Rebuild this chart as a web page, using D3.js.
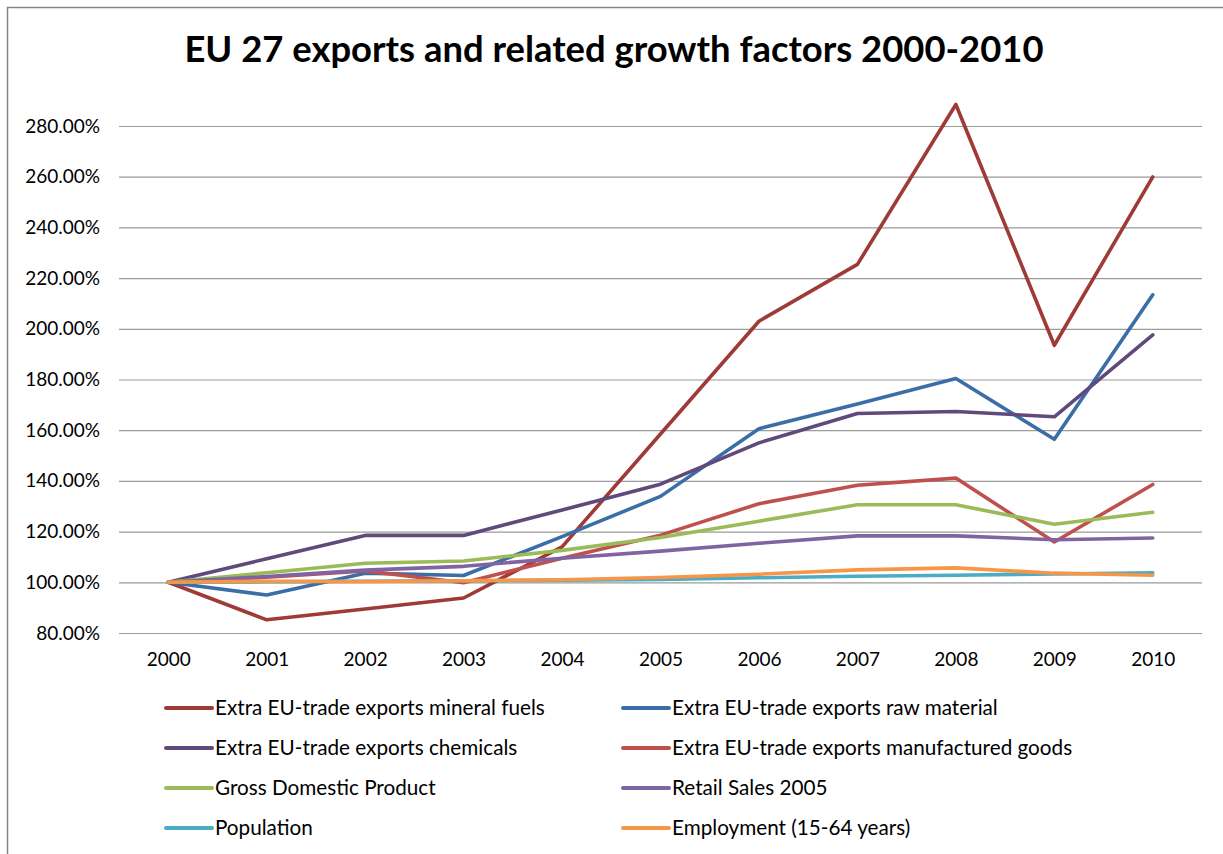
<!DOCTYPE html>
<html>
<head>
<meta charset="utf-8">
<script src="https://cdn.jsdelivr.net/npm/d3@7"></script>
<style>
  html, body { margin: 0; padding: 0; background: #ffffff; }
  svg { display: block; }
  text { font-family: "Lato", "Open Sans", "DejaVu Sans", sans-serif; fill: #000; }
</style>
</head>
<body>
<svg id="chart" width="1223" height="854"></svg>
<script>
// Index values (2000 = 100%)
const years = ["2000","2001","2002","2003","2004","2005","2006","2007","2008","2009","2010"];

const mineralFuels   = [100, 85.2, 89.5, 93.8, 114.0, 158.5, 203.0, 225.4, 288.5, 193.5, 259.9];
const rawMaterial    = [100, 95.0, 103.6, 102.7, 118.0, 133.9, 160.6, 170.3, 180.4, 156.4, 213.4];
const chemicals      = [100, 109.3, 118.5, 118.5, 128.5, 138.7, 155.0, 166.6, 167.4, 165.3, 197.6];
const manufactured   = [100, 102.0, 104.5, 99.8, 109.5, 118.6, 131.0, 138.3, 141.1, 115.9, 138.6];
const gdp            = [100, 103.8, 107.5, 108.4, 112.6, 117.7, 124.1, 130.6, 130.6, 122.9, 127.6];
const retailSales    = [100, 102.3, 104.8, 106.3, 109.5, 112.3, 115.4, 118.3, 118.3, 116.8, 117.5];
const population     = [100, 100.2, 100.4, 100.6, 100.8, 101.1, 101.8, 102.4, 102.8, 103.3, 103.7];
const employment     = [100, 100.4, 100.3, 100.6, 101.0, 101.9, 103.2, 104.9, 105.7, 103.6, 102.8];

const seriesNames = [
  "Extra EU-trade exports mineral fuels",
  "Extra EU-trade exports raw material",
  "Extra EU-trade exports chemicals",
  "Extra EU-trade exports manufactured goods",
  "Gross Domestic Product",
  "Retail Sales 2005",
  "Population",
  "Employment (15-64 years)"
];
const seriesValues = [mineralFuels, rawMaterial, chemicals, manufactured, gdp, retailSales, population, employment];
const seriesColors = ["#9E3B37", "#3B6EA6", "#604A7B", "#C0504D", "#9BBB59", "#8064A2", "#4BACC6", "#F79646"];

const yTicks = [80, 100, 120, 140, 160, 180, 200, 220, 240, 260, 280];

const series = seriesNames.map((name, i) => ({ name, values: seriesValues[i], color: seriesColors[i] }));

const svg = d3.select("#chart");

// chart frame
svg.append("rect")
  .attr("x", 7.5).attr("y", 7.5)
  .attr("width", 1300).attr("height", 1000)
  .attr("fill", "#fff")
  .attr("stroke", "#868686")
  .attr("stroke-width", 1.5);

// title
svg.append("text")
  .attr("x", 614).attr("y", 62)
  .attr("text-anchor", "middle")
  .attr("font-weight", "bold")
  .attr("font-size", 36.4)
  .text("EU 27 exports and related growth factors 2000-2010");

const plotLeft = 119, plotRight = 1202;
const x = d3.scalePoint().domain(years).range([plotLeft, plotRight]).padding(0.5);
const y = d3.scaleLinear().domain([80, 280]).range([633, 126]);

// horizontal gridlines + y labels
const yAxis = d3.axisLeft(y)
  .tickValues(yTicks)
  .tickSize(-(plotRight - plotLeft))
  .tickPadding(19)
  .tickFormat(d => d.toFixed(2) + "%");

const gy = svg.append("g")
  .attr("transform", `translate(${plotLeft},0)`)
  .call(yAxis);
gy.select(".domain").remove();
gy.selectAll(".tick line").attr("stroke", "#9a9a9a").attr("stroke-width", 1.2);
gy.selectAll(".tick text")
  .attr("font-family", "Lato, 'Open Sans', sans-serif")
  .attr("font-size", 19)
  .attr("fill", "#000");

// x labels
const xAxis = d3.axisBottom(x).tickSize(0).tickPadding(20);
const gx = svg.append("g")
  .attr("transform", `translate(0,${y(80)})`)
  .call(xAxis);
gx.select(".domain").remove();
gx.selectAll(".tick text")
  .attr("font-family", "Lato, 'Open Sans', sans-serif")
  .attr("font-size", 19)
  .attr("fill", "#000");

// series lines
const line = d3.line()
  .x((d, i) => x(years[i]))
  .y(d => y(d));

svg.append("g")
  .selectAll("path")
  .data(series)
  .join("path")
  .attr("d", d => line(d.values))
  .attr("fill", "none")
  .attr("stroke", d => d.color)
  .attr("stroke-width", 3.6)
  .attr("stroke-linejoin", "round")
  .attr("stroke-linecap", "round");

// legend: two columns, four rows
const legendCols = [166, 623];
const legendRows = [708, 748, 788, 828];
const legend = svg.append("g")
  .selectAll("g")
  .data(series)
  .join("g")
  .attr("transform", (d, i) => `translate(${legendCols[i % 2]},${legendRows[Math.floor(i / 2)]})`);

legend.append("line")
  .attr("x1", 0).attr("x2", 46)
  .attr("y1", 0).attr("y2", 0)
  .attr("stroke", d => d.color)
  .attr("stroke-width", 4)
  .attr("stroke-linecap", "round");

legend.append("text")
  .attr("x", 49).attr("y", 0)
  .attr("dy", "0.35em")
  .attr("font-size", 20.7)
  .text(d => d.name);
</script>
</body>
</html>
